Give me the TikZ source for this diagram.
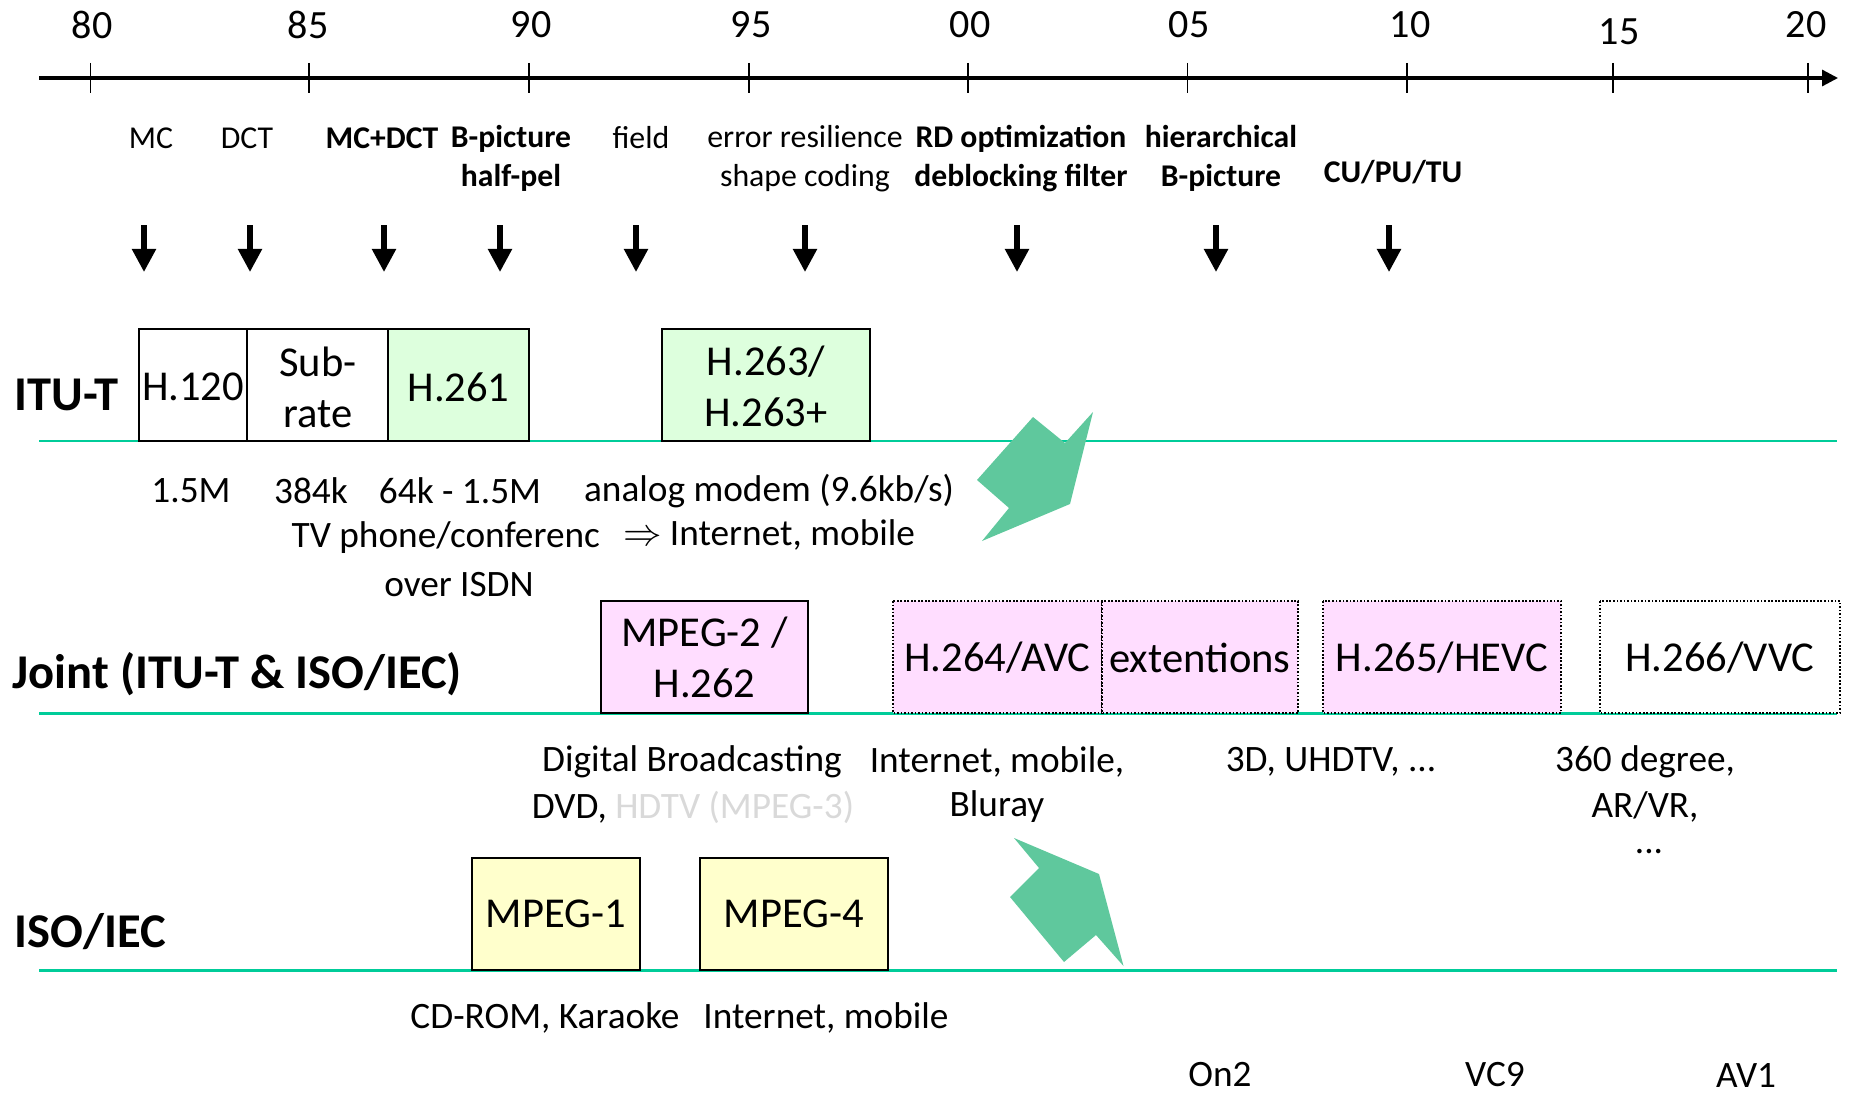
\documentclass[tikz,border=0pt]{standalone}
\usepackage{fontspec}
\setmainfont{Carlito}
\usetikzlibrary{arrows.meta}
\definecolor{rowline}{RGB}{0,204,153}
\definecolor{bigarrow}{RGB}{95,200,157}
\definecolor{itufill}{RGB}{221,255,221}
\definecolor{jointfill}{RGB}{255,221,255}
\definecolor{isofill}{RGB}{255,255,204}
\definecolor{fadedtext}{RGB}{217,217,217}
\tikzset{
    year/.style = {inner sep=0pt, font=\fontsize{11.4}{13}\selectfont},
    feature/.style = {inner sep=0pt, align=center, font=\fontsize{9.05}{11.1}\selectfont},
    keyfeature/.style = {inner sep=0pt, align=center, font=\fontsize{9}{11.1}\selectfont\bfseries},
    boxtext/.style = {inner sep=0pt, align=center, font=\fontsize{12.1}{14.5}\selectfont},
    rowlabel/.style = {inner sep=0pt, anchor=west, font=\fontsize{13.8}{15}\selectfont\bfseries},
    usage/.style = {inner sep=0pt, align=center, font=\fontsize{10.6}{12.8}\selectfont},
    axisline/.style = {line width=0.9pt, -{Triangle[width=4.5pt,length=4.5pt]}},
    tickmark/.style = {line width=0.5pt},
    featurearrow/.style = {line width=1.5pt, -{Triangle[width=6.6pt,length=6.6pt]}},
    rowrule/.style = {rowline, line width=0.85pt},
    plainbox/.style = {draw=black, line width=0.7pt, fill=white},
    itubox/.style = {plainbox, fill=itufill},
    jointbox/.style = {plainbox, fill=jointfill},
    isobox/.style = {plainbox, fill=isofill},
    dotbox/.style = {line width=0.5pt, dash pattern=on 0.5pt off 0.5pt}
}
\begin{document}
\begin{tikzpicture}[x=0.01cm, y=-0.01cm]
    \useasboundingbox (0,0) rectangle (1849,1094);

    % time axis
    \coordinate (axis start) at (39,78);
    \coordinate (axis end) at (1838,78);
    \draw[axisline] (axis start) -- (axis end);
    \draw[tickmark] (90.5,63) -- (90.5,93);
    \draw[tickmark] (309,63) -- (309,93);
    \draw[tickmark] (529,63) -- (529,93);
    \draw[tickmark] (749,63) -- (749,93);
    \draw[tickmark] (968,63) -- (968,93);
    \draw[tickmark] (1187.5,63) -- (1187.5,93);
    \draw[tickmark] (1407,63) -- (1407,93);
    \draw[tickmark] (1613,63) -- (1613,93);
    \draw[tickmark] (1808,63) -- (1808,93);
    \node[year] (y80) at (92,25) {80};
    \node[year] (y85) at (308,25) {85};
    \node[year] (y90) at (531,25) {90};
    \node[year] (y95) at (751,25) {95};
    \node[year] (y00) at (970,25) {00};
    \node[year] (y05) at (1189,25) {05};
    \node[year] (y10) at (1410,25) {10};
    \node[year] (y15) at (1619,32) {15};
    \node[year] (y20) at (1806,25) {20};

    % coding tools
    \node[feature] (mc) at (151,138) {MC};
    \node[feature] (dct) at (247,138) {DCT};
    \node[keyfeature] (mcdct) at (382,138) {MC+DCT};
    \node[keyfeature] (bpic) at (511,158.5) {B-picture\\half-pel};
    \node[feature] (field) at (641,138) {field};
    \node[feature] (errres) at (805,158.5) {error resilience\\shape coding};
    \node[keyfeature] (rdo) at (1021,158.5) {RD optimization\\deblocking filter};
    \node[keyfeature] (hier) at (1221,158.5) {hierarchical\\B-picture};
    \node[keyfeature] (cupu) at (1393,172) {CU/PU/TU};
    \draw[featurearrow] (144,225) -- (144,272);
    \draw[featurearrow] (250,225) -- (250,272);
    \draw[featurearrow] (384,225) -- (384,272);
    \draw[featurearrow] (500,225) -- (500,272);
    \draw[featurearrow] (636,225) -- (636,272);
    \draw[featurearrow] (805,225) -- (805,272);
    \draw[featurearrow] (1017,225) -- (1017,272);
    \draw[featurearrow] (1216,225) -- (1216,272);
    \draw[featurearrow] (1389,225) -- (1389,272);

    % ITU-T
    \coordinate (itu left) at (39,441);
    \coordinate (itu right) at (1837,441);
    \draw[rowrule] (itu left) -- (itu right);
    \draw[plainbox] (139,329) rectangle (247,441);
    \draw[plainbox] (247,329) rectangle (388,441);
    \draw[itubox] (388,329) rectangle (529,441);
    \draw[itubox] (662,329) rectangle (870,441);
    \node[rowlabel] (itut) at (14,395) {ITU-T};
    \node[boxtext] (h120) at (193,387) {H.120};
    \node[boxtext] (subrate) at (318,387) {Sub-\\rate};
    \node[boxtext] (h261) at (458.5,387) {H.261};
    \node[boxtext] (h263) at (766,386) {H.263/\\H.263+};
    \node[usage] (rate120) at (191,491) {1.5M};
    \node[usage] (ratesub) at (311,491) {384k};
    \node[usage] (rate261) at (460,491) {64k - 1.5M};
    \node[usage] (use263) at (769,491) {analog modem (9.6kb/s)};
    \node[usage] (use263b) at (769,535) {$\Rightarrow$ Internet, mobile};
    \begin{scope}
        \clip (280,510) rectangle (601,570);
        \node[usage, anchor=west] (use261) at (291,538) {TV phone/conferenc};
    \end{scope}
    \node[usage] (use261b) at (459,585) {over ISDN};

    % Joint
    \coordinate (joint left) at (39,713);
    \coordinate (joint right) at (1837,713);
    \draw[rowrule] (joint left) -- (joint right);
    \draw[jointbox] (601,601) rectangle (808,713);
    \draw[jointbox, dotbox] (893,601) rectangle (1102,713);
    \draw[jointbox, dotbox] (1102,601) rectangle (1298,713);
    \draw[jointbox, dotbox] (1323,601) rectangle (1561,713);
    \draw[plainbox, dotbox] (1600,601) rectangle (1840,713);
    \node[rowlabel] (joint) at (12,674) {Joint (ITU-T \& ISO/IEC)};
    \node[boxtext] (mpeg2) at (704.5,657) {MPEG-2 /\\H.262};
    \node[boxtext] (h264) at (997.5,658) {H.264/AVC};
    \node[boxtext] (ext) at (1200,658) {extentions};
    \node[boxtext] (h265) at (1442,658) {H.265/HEVC};
    \node[boxtext] (h266) at (1720,658) {H.266/VVC};
    \node[usage] (use2) at (692,762) {Digital Broadcasting};
    \node[usage] (use2b) at (693,807) {DVD, \textcolor{fadedtext}{HDTV (MPEG-3)}};
    \node[usage] (use264) at (997,762) {Internet, mobile,};
    \node[usage] (use264b) at (997,807) {Bluray};
    \node[usage] (use265) at (1331,762) {3D, UHDTV, ...};
    \node[usage] (use266) at (1645,762) {360 degree,};
    \node[usage] (use266b) at (1645,807) {AR/VR,};
    \node[usage] (use266c) at (1649,852) {...};

    % ISO/IEC
    \coordinate (iso left) at (39,970);
    \coordinate (iso right) at (1837,970);
    \draw[rowrule] (iso left) -- (iso right);
    \draw[isobox] (472,858) rectangle (640,970);
    \draw[isobox] (700,858) rectangle (888,970);
    \node[rowlabel] (iso) at (14,932) {ISO/IEC};
    \node[boxtext] (mpeg1) at (556,914) {MPEG-1};
    \node[boxtext] (mpeg4) at (794,914) {MPEG-4};
    \node[usage] (use1) at (545,1018) {CD-ROM, Karaoke};
    \node[usage] (use4) at (826,1018) {Internet, mobile};
    \node[usage] (on2) at (1220,1075) {On2};
    \node[usage] (vc9) at (1495,1075) {VC9};
    \node[usage] (av1) at (1746,1075) {AV1};

    % merging arrows
    \fill[bigarrow] (1033,417) -- (1065,443) -- (1093,412) -- (1070,504)
        -- (982,541) -- (1009,508) -- (977,480) -- cycle;
    \fill[bigarrow] (1014,838) -- (1099,874) -- (1123.5,966) -- (1096,935)
        -- (1064,962) -- (1010,897) -- (1039,868) -- cycle;
\end{tikzpicture}
\end{document}
